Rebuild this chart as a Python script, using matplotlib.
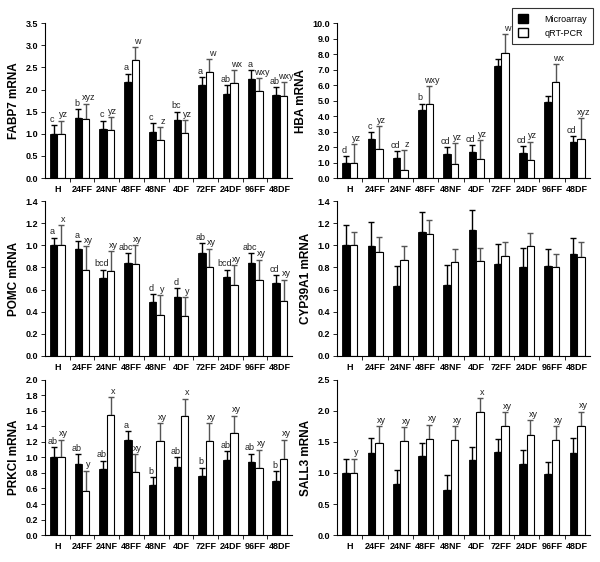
"""
plot.py - grouped bar chart of microarray vs qRT-PCR expression for six genes.
"""

import matplotlib

matplotlib.use("Agg")
import matplotlib.pyplot as plt
from matplotlib.patches import Patch
from matplotlib.ticker import FixedLocator, FormatStrFormatter

plt.rcParams["font.family"] = ["Liberation Sans", "DejaVu Sans"]
NARROW = ["Liberation Sans Narrow", "Liberation Sans", "DejaVu Sans"]

GROUPS = ["H", "24FF", "24NF", "48FF", "48NF", "4DF", "72FF", "24DF", "96FF", "48DF"]

# FABP7
fabp7_micro = [1.00, 1.36, 1.12, 2.16, 1.05, 1.31, 2.10, 1.90, 2.24, 1.87]
fabp7_micro_top = [1.19, 1.55, 1.30, 2.36, 1.24, 1.50, 2.28, 2.10, 2.43, 2.06]
fabp7_pcr = [1.00, 1.34, 1.08, 2.67, 0.86, 1.02, 2.40, 2.15, 1.96, 1.85]
fabp7_pcr_top = [1.30, 1.68, 1.37, 2.96, 1.16, 1.31, 2.69, 2.43, 2.25, 2.16]
fabp7_micro_let = ["c", "b", "c", "a", "c", "bc", "a", "ab", "a", "ab"]
fabp7_pcr_let = ["yz", "xyz", "yz", "w", "z", "yz", "w", "wx", "wxy", "wxy"]

# HBA
hba_micro = [1.00, 2.50, 1.30, 4.40, 1.55, 1.70, 7.25, 1.60, 4.90, 2.30]
hba_micro_top = [1.40, 2.95, 1.75, 4.80, 2.00, 2.15, 7.70, 2.05, 5.30, 2.70]
hba_pcr = [1.00, 1.85, 0.55, 4.75, 0.90, 1.25, 8.10, 1.15, 6.20, 2.55]
hba_pcr_top = [2.20, 3.35, 1.80, 5.95, 2.25, 2.45, 9.30, 2.35, 7.35, 3.85]
hba_micro_let = ["d", "c", "cd", "b", "cd", "cd", "", "cd", "", "cd"]
hba_pcr_let = ["yz", "yz", "z", "wxy", "yz", "yz", "w", "yz", "wx", "xyz"]

# POMC
pomc_micro = [1.00, 0.97, 0.70, 0.84, 0.49, 0.53, 0.93, 0.71, 0.84, 0.66]
pomc_micro_top = [1.07, 1.04, 0.78, 0.93, 0.56, 0.61, 1.02, 0.78, 0.93, 0.73]
pomc_pcr = [1.00, 0.78, 0.77, 0.83, 0.37, 0.36, 0.80, 0.64, 0.69, 0.50]
pomc_pcr_top = [1.18, 0.99, 0.95, 1.00, 0.55, 0.53, 0.97, 0.82, 0.87, 0.69]
pomc_micro_let = ["a", "a", "bcd", "abc", "d", "d", "ab", "bcd", "abc", "cd"]
pomc_pcr_let = ["x", "xy", "xy", "xy", "y", "y", "xy", "xy", "xy", "xy"]

# CYP39A1
cyp_micro = [1.00, 0.99, 0.63, 1.12, 0.64, 1.14, 0.83, 0.80, 0.81, 0.92]
cyp_micro_top = [1.18, 1.21, 0.81, 1.30, 0.82, 1.32, 1.01, 0.98, 0.97, 1.07]
cyp_pcr = [1.00, 0.94, 0.87, 1.10, 0.85, 0.86, 0.90, 0.99, 0.80, 0.89]
cyp_pcr_top = [1.12, 1.08, 0.99, 1.23, 0.97, 0.98, 1.03, 1.11, 0.92, 1.03]
cyp_micro_let = [""] * 10
cyp_pcr_let = [""] * 10

# PRKCI
prkci_micro = [1.00, 0.91, 0.85, 1.22, 0.64, 0.88, 0.76, 0.97, 0.94, 0.70]
prkci_micro_top = [1.13, 1.04, 0.96, 1.34, 0.75, 1.00, 0.87, 1.08, 1.05, 0.82]
prkci_pcr = [1.00, 0.57, 1.55, 0.81, 1.21, 1.53, 1.21, 1.31, 0.87, 0.98]
prkci_pcr_top = [1.23, 0.83, 1.78, 1.04, 1.44, 1.76, 1.44, 1.54, 1.10, 1.23]
prkci_micro_let = ["ab", "ab", "ab", "a", "b", "ab", "b", "ab", "ab", "b"]
prkci_pcr_let = ["xy", "y", "x", "xy", "xy", "x", "xy", "xy", "xy", "xy"]

# SALL3
sall3_micro = [1.00, 1.33, 0.83, 1.28, 0.72, 1.21, 1.34, 1.14, 0.98, 1.32]
sall3_micro_top = [1.23, 1.56, 1.04, 1.48, 0.96, 1.42, 1.55, 1.37, 1.18, 1.56]
sall3_pcr = [1.00, 1.49, 1.51, 1.55, 1.53, 1.98, 1.75, 1.61, 1.53, 1.75]
sall3_pcr_top = [1.23, 1.75, 1.74, 1.78, 1.76, 2.21, 1.98, 1.85, 1.76, 1.99]
sall3_micro_let = [""] * 10
sall3_pcr_let = ["y", "xy", "xy", "xy", "xy", "x", "xy", "xy", "xy", "xy"]


def draw_panel(ax, label, micro, micro_top, pcr, pcr_top, micro_let, pcr_let,
               ymax, ystep, fmt):
    """Draw one gene panel."""
    width = 0.3
    x = list(range(len(GROUPS)))
    xm = [i - width / 2 for i in x]
    xp = [i + width / 2 for i in x]

    ax.bar(xm, micro, width, color="black", edgecolor="black", linewidth=0.6, zorder=2)
    ax.bar(xp, pcr, width, color="white", edgecolor="black", linewidth=0.8, zorder=2)

    m_err = [[0] * len(micro), [t - v for t, v in zip(micro_top, micro)]]
    p_err = [[0] * len(pcr), [t - v for t, v in zip(pcr_top, pcr)]]
    ax.errorbar(xm, micro, yerr=m_err, fmt="none", ecolor="black",
                elinewidth=1.0, capsize=2, capthick=1.0, zorder=1)
    ax.errorbar(xp, pcr, yerr=p_err, fmt="none", ecolor="#555555",
                elinewidth=1.0, capsize=2, capthick=1.0, zorder=1)

    off = ymax * 0.008
    for i in x:
        if micro_let[i]:
            ax.text(xm[i] - 0.06, micro_top[i] + off, micro_let[i], ha="center",
                    va="bottom", fontsize=6.5, color="#222222")
        if pcr_let[i]:
            ax.text(xp[i] + 0.1, pcr_top[i] + off, pcr_let[i], ha="center",
                    va="bottom", fontsize=6.5, color="#222222")

    ax.set_xlim(-0.5, len(GROUPS) - 0.5)
    ax.set_ylim(0, ymax)
    n = int(round(ymax / ystep))
    ax.yaxis.set_major_locator(FixedLocator([k * ystep for k in range(n + 1)]))
    ax.yaxis.set_major_formatter(FormatStrFormatter(fmt))

    ax.set_xticks(x)
    ax.set_xticklabels(GROUPS, fontweight="bold", fontsize=6.5)
    ax.tick_params(axis="x", which="major", length=0, pad=5)
    ax.xaxis.set_minor_locator(FixedLocator([i + 0.5 for i in x[:-1]]))
    ax.tick_params(axis="x", which="minor", length=3, width=0.6, direction="out")
    ax.tick_params(axis="y", length=3, width=0.6, labelsize=6.5, pad=2)
    for t in ax.get_yticklabels():
        t.set_fontweight("bold")

    ax.spines["top"].set_visible(False)
    ax.spines["right"].set_visible(False)
    ax.spines["left"].set_linewidth(0.8)
    ax.spines["bottom"].set_linewidth(0.8)
    ax.set_ylabel(label, fontweight="bold", fontsize=8.5, labelpad=4,
                  family=NARROW)


def main() -> None:
    fig = plt.figure(figsize=(6.0, 5.62), dpi=100)

    L1, R1 = 0.075, 0.487
    L2, R2 = 0.562, 0.983
    rows = [(0.683, 0.959), (0.367, 0.642), (0.048, 0.324)]

    panels = [
        ((L1, rows[0]), "FABP7 mRNA", fabp7_micro, fabp7_micro_top, fabp7_pcr,
         fabp7_pcr_top, fabp7_micro_let, fabp7_pcr_let, 3.5, 0.5, "%.1f"),
        ((L2, rows[0]), "HBA mRNA", hba_micro, hba_micro_top, hba_pcr,
         hba_pcr_top, hba_micro_let, hba_pcr_let, 10.0, 1.0, "%.1f"),
        ((L1, rows[1]), "POMC mRNA", pomc_micro, pomc_micro_top, pomc_pcr,
         pomc_pcr_top, pomc_micro_let, pomc_pcr_let, 1.4, 0.2, "%.1f"),
        ((L2, rows[1]), "CYP39A1 mRNA", cyp_micro, cyp_micro_top, cyp_pcr,
         cyp_pcr_top, cyp_micro_let, cyp_pcr_let, 1.4, 0.2, "%.1f"),
        ((L1, rows[2]), "PRKCI mRNA", prkci_micro, prkci_micro_top, prkci_pcr,
         prkci_pcr_top, prkci_micro_let, prkci_pcr_let, 2.0, 0.2, "%.1f"),
        ((L2, rows[2]), "SALL3 mRNA", sall3_micro, sall3_micro_top, sall3_pcr,
         sall3_pcr_top, sall3_micro_let, sall3_pcr_let, 2.5, 0.5, "%.1f"),
    ]

    for (left, (bot, top)), *args in panels:
        right = R1 if left == L1 else R2
        ax = fig.add_axes([left, bot, right - left, top - bot])
        draw_panel(ax, *args)
        if args[0] == "HBA mRNA":
            handles = [
                Patch(facecolor="black", edgecolor="black", label="Microarray"),
                Patch(facecolor="white", edgecolor="black", label="qRT-PCR"),
            ]
            leg = fig.legend(handles=handles, loc="upper left",
                             bbox_to_anchor=(0.853, 0.986), fontsize=6.5,
                             frameon=True, fancybox=False, handlelength=1.1,
                             handleheight=1.1, borderpad=0.7, labelspacing=0.5,
                             handletextpad=1.8, borderaxespad=0)
            leg.get_frame().set_edgecolor("black")
            leg.get_frame().set_linewidth(0.8)

    fig.savefig("out.png", dpi=100)
    plt.close(fig)


if __name__ == "__main__":
    main()
